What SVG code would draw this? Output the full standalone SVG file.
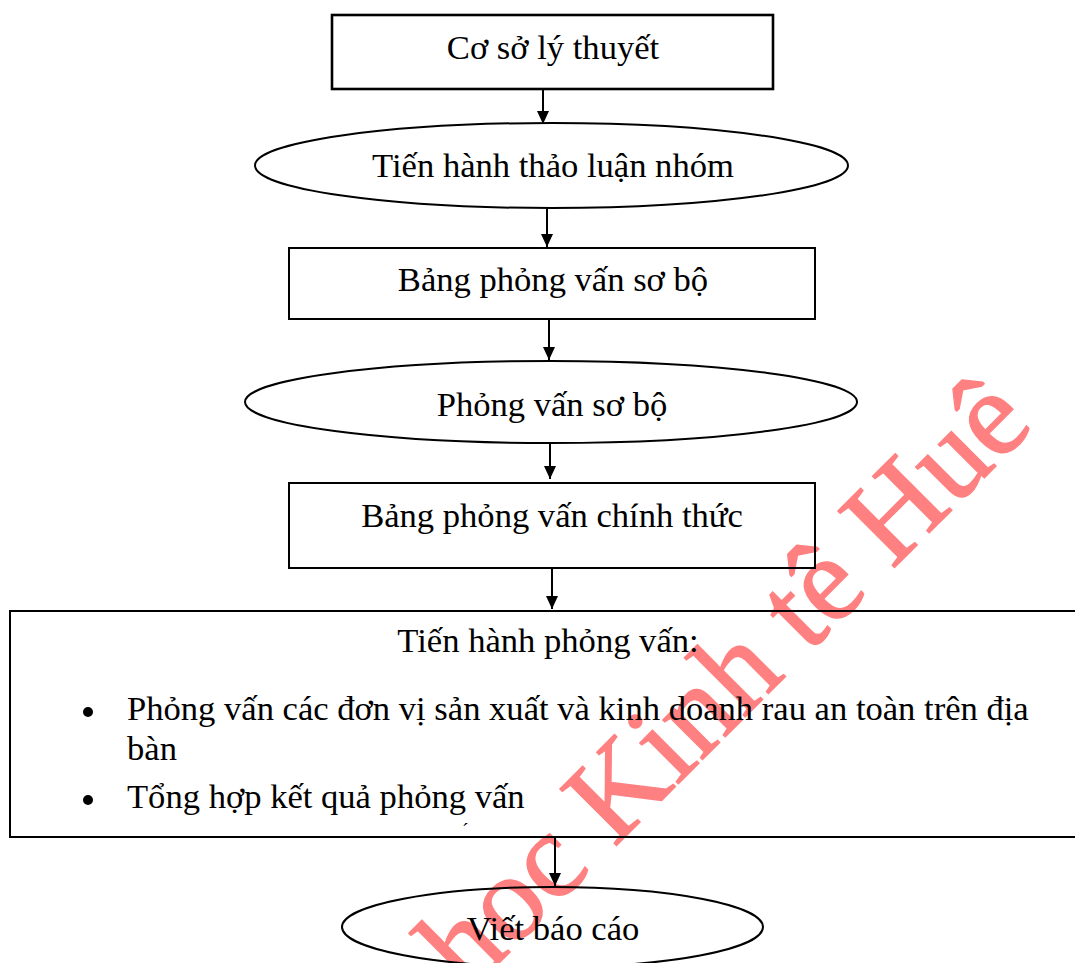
<svg xmlns="http://www.w3.org/2000/svg" width="1075" height="963" viewBox="0 0 1075 963">
<style>
.shape{fill:none;stroke:#000;stroke-width:2}
.t{font-family:"Liberation Serif","Times New Roman",serif;font-size:34.6px;fill:#000}
.c{text-anchor:middle}
.conn{stroke:#000;stroke-width:2;fill:none}
.wm{font-family:"Liberation Serif","Times New Roman",serif;font-size:122px;fill:#ff8080;stroke:#ff8080;stroke-width:1.5}
</style>
<defs>
<marker id="arr" viewBox="0 0 13 12" refX="13" refY="6" markerWidth="13" markerHeight="12" markerUnits="userSpaceOnUse" orient="auto">
<path d="M0,0 L13,6 L0,12 z" fill="#000"/>
</marker>
</defs>
<rect width="1075" height="963" fill="#fff"/>
<g id="watermark">
<text class="wm" transform="translate(468,994) rotate(-45)">hoc Kinh tê Huê</text>
</g>
<g id="n1">
<rect class="shape" x="332" y="15" width="441" height="74" style="stroke-width:2.6"/>
<text class="t c" x="553" y="59">Cơ sở lý thuyết</text>
</g>
<g id="n2">
<ellipse class="shape" cx="551.5" cy="165.5" rx="296.5" ry="42.5"/>
<text class="t c" x="553" y="177">Tiến hành thảo luận nhóm</text>
</g>
<g id="n3">
<rect class="shape" x="289" y="248" width="526" height="71"/>
<text class="t c" x="553" y="291">Bảng phỏng vấn sơ bộ</text>
</g>
<g id="n4">
<ellipse class="shape" cx="551" cy="402" rx="306" ry="41"/>
<text class="t c" x="552" y="416">Phỏng vấn sơ bộ</text>
</g>
<g id="n5">
<rect class="shape" x="289" y="483" width="526" height="85"/>
<text class="t c" x="552" y="527">Bảng phỏng vấn chính thức</text>
</g>
<g id="n6">
<rect class="shape" x="10" y="611" width="1075" height="226"/>
<text class="t c" x="548" y="652">Tiến hành phỏng vấn:</text>
<circle cx="88" cy="712" r="5" fill="#000"/>
<text class="t" x="127" y="720">Phỏng vấn các đơn vị sản xuất và kinh doanh rau an toàn trên địa</text>
<text class="t" x="127" y="760">bàn</text>
<circle cx="88" cy="800" r="5" fill="#000"/>
<text class="t" x="127" y="808">Tổng hợp kết quả phỏng vấn</text>
<text class="t" x="462" y="838" style="font-size:20px">ˊ</text>
</g>
<g id="n7">
<ellipse class="shape" cx="552.5" cy="927" rx="210.5" ry="40"/>
<text class="t c" x="553" y="940">Viết báo cáo</text>
</g>
<g id="connectors">
<line class="conn" x1="543" y1="89" x2="543" y2="124" marker-end="url(#arr)"/>
<line class="conn" x1="547" y1="209" x2="547" y2="247" marker-end="url(#arr)"/>
<line class="conn" x1="549" y1="319" x2="549" y2="360" marker-end="url(#arr)"/>
<line class="conn" x1="550" y1="443" x2="550" y2="479" marker-end="url(#arr)"/>
<line class="conn" x1="552" y1="569" x2="552" y2="609" marker-end="url(#arr)"/>
<line class="conn" x1="555" y1="838" x2="555" y2="886" marker-end="url(#arr)"/>
</g>
</svg>
